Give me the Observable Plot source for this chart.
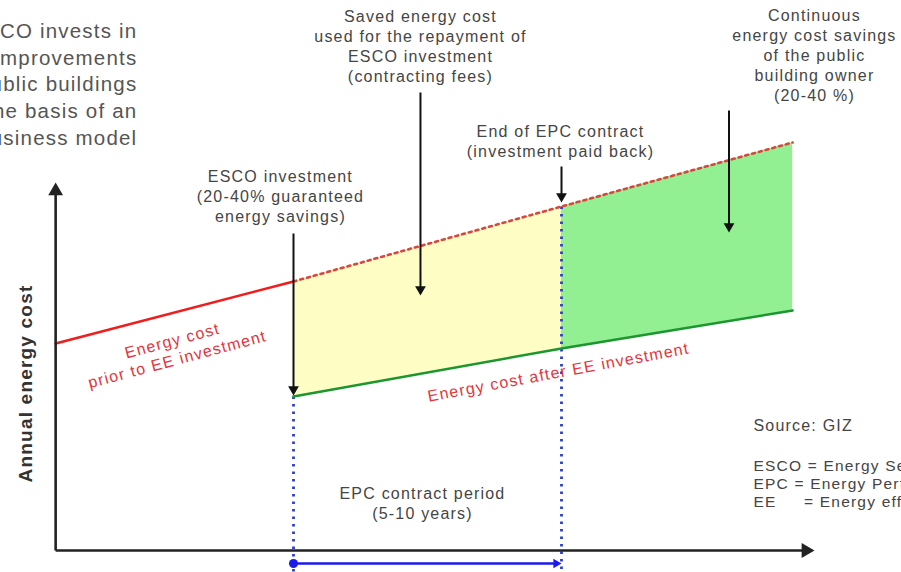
<!DOCTYPE html>
<html><head><meta charset="utf-8">
<script src="https://cdn.jsdelivr.net/npm/d3@7"></script>
<script src="https://cdn.jsdelivr.net/npm/@observablehq/plot@0.6"></script>
<style>
body{margin:0;background:#fff;}
#chart svg text{letter-spacing:1.2px;}
</style></head><body><div id="chart"></div>
<script>
// x = years relative to the ESCO investment, y = annual energy cost (arbitrary units)
const priorYears = [-7.1, 0];
const priorCost = [51.75, 67.25];
const baselineYears = [0, 8, 14.9];
const baselineCost = [67.25, 86, 102];
const afterYears = [0, 8, 14.9];
const afterCost = [38.5, 50.5, 60];
const contractStart = 0, contractEnd = 8;

// axes
const axisYear = -7.1, yAxisTip = 92, xAxisTip = 15.55, bottomCost = -5.5;

// black pointer arrows (year, from cost, to cost)
const pointerYears = [0, 3.79, 8, 13.0];
const pointerFrom = [79.25, 114.5, 96, 110];
const pointerTo = [38.75, 63.75, 87, 79.5];

// contract period arrow
const periodArrowCost = -3.25;

// annotations
const noteTexts = [
  "Saved energy cost\nused for the repayment of\nESCO investment\n(contracting fees)",
  "Continuous\nenergy cost savings\nof the public\nbuilding owner\n(20-40 %)",
  "End of EPC contract\n(investment paid back)",
  "ESCO investment\n(20-40% guaranteed\nenergy savings)",
  "EPC contract period\n(5-10 years)"
];
const noteYears = [3.79, 15.55, 7.97, -0.39, 3.85];
const noteCosts = [126.25, 124, 102.5, 88.75, 12];

const introText = "ESCO invests in\nEE improvements\nin public buildings\non the basis of an\nEPC business model";
const introYear = -4.66, introCost = 116.9;

const redLabels = ["Energy cost\nprior to EE investment", "Energy cost after EE investment"];
const redYears = [-3.55, 7.91];
const redCosts = [50.3, 44.5];
const redAngles = [-15, -10.5];

const sourceText = "Source: GIZ";
const abbrevText = "ESCO = Energy Service Company\nEPC = Energy Performance Contracting\nEE\u00a0\u00a0\u00a0\u00a0\u00a0= Energy efficiency";
const sourceYear = 13.73, sourceCost = 31.25, abbrevCost = 16.75;

const yLabel = "Annual energy cost";
const yLabelYear = -8.0, yLabelCost = 41.75;

// ---- build tables
const prior = priorYears.map((t, i) => ({t, c: priorCost[i]}));
const baseline = baselineYears.map((t, i) => ({t, c: baselineCost[i]}));
const after = afterYears.map((t, i) => ({t, c: afterCost[i]}));
const band = baselineYears.map((t, i) => ({t, top: baselineCost[i], bottom: afterCost[i]}));
const yellowBand = band.filter(d => d.t >= contractStart && d.t <= contractEnd);
const greenBand = band.filter(d => d.t >= contractEnd);
const costAt = (arr, t) => arr.find(d => d.t === t).c;

const axes = [
  {x1: axisYear, y1: 0, x2: axisYear, y2: yAxisTip - 2},
  {x1: axisYear, y1: 0, x2: xAxisTip - 0.3, y2: 0}
];
const dotted = [
  {x1: contractStart, y1: costAt(after, contractStart), x2: contractStart, y2: bottomCost},
  {x1: contractEnd, y1: costAt(baseline, contractEnd), x2: contractEnd, y2: bottomCost}
];
const pointers = pointerYears.map((t, i) => ({t, from: pointerFrom[i], to: pointerTo[i]}));
const notes = noteTexts.map((s, i) => ({s, t: noteYears[i], c: noteCosts[i]}));
const reds = redLabels.map((s, i) => ({s, t: redYears[i], c: redCosts[i], a: redAngles[i]}));

const font = "Liberation Sans, Arial, Helvetica, sans-serif";
const grey = "#454545";

const chart = Plot.plot({
  width: 901, height: 572,
  margin: 0,
  x: {domain: [-8.746, 18.149], axis: null},
  y: {domain: [-5.5, 137.5], axis: null},
  style: {fontFamily: font, background: "#fff"},
  marks: [
    Plot.areaY(yellowBand, {x: "t", y1: "bottom", y2: "top", fill: "#fefec4"}),
    Plot.areaY(greenBand, {x: "t", y1: "bottom", y2: "top", fill: "#92f092"}),
    Plot.link(dotted, {x1: "x1", y1: "y1", x2: "x2", y2: "y2", stroke: "#2a3fd0", strokeWidth: 2.8, strokeDasharray: "2.5 5"}),
    Plot.line(baseline, {x: "t", y: "c", stroke: "#d8473f", strokeWidth: 2.6, strokeDasharray: "3 4"}),
    Plot.line(prior, {x: "t", y: "c", stroke: "#f21c1c", strokeWidth: 2.5}),
    Plot.line(after, {x: "t", y: "c", stroke: "#1c9630", strokeWidth: 2.5}),
    Plot.link(axes, {x1: "x1", y1: "y1", x2: "x2", y2: "y2", stroke: "#222", strokeWidth: 2.6}),
    Plot.dot([{t: axisYear, c: yAxisTip}], {x: "t", y: "c", symbol: "triangle", r: 5.5, fill: "#222", stroke: "none", dy: 8.5}),
    Plot.dot([{t: xAxisTip, c: 0}], {x: "t", y: "c", symbol: "triangle", r: 5.5, rotate: 90, fill: "#222", stroke: "none", dx: -8.5}),
    Plot.link(pointers, {x1: "t", y1: "from", x2: "t", y2: d => d.to + 1.5, stroke: "#111", strokeWidth: 2}),
    Plot.dot(pointers, {x: "t", y: "to", symbol: "triangle", r: 4, rotate: 180, fill: "#111", stroke: "none", dy: -6.2}),
    Plot.link([{x1: contractStart, x2: contractEnd - 0.2, c: periodArrowCost}], {x1: "x1", x2: "x2", y1: "c", y2: "c", stroke: "#1a1aee", strokeWidth: 2.5}),
    Plot.dot([{t: contractStart, c: periodArrowCost}], {x: "t", y: "c", r: 4.5, fill: "#1a1aee", stroke: "none"}),
    Plot.dot([{t: contractEnd, c: periodArrowCost}], {x: "t", y: "c", symbol: "triangle", r: 3.5, rotate: 90, fill: "#1a1aee", stroke: "none", dx: -5.4}),
    Plot.text(notes, {x: "t", y: "c", text: "s", fontSize: 16, fill: grey, lineHeight: 1.25, lineAnchor: "middle", textAnchor: "middle"}),
    Plot.text([introText], {x: () => introYear, y: () => introCost, text: d => d, fontSize: 20.5, fill: "#555", lineHeight: 1.3, lineAnchor: "middle", textAnchor: "end"}),
    Plot.text(reds.slice(0, 1), {x: "t", y: "c", text: "s", rotate: redAngles[0], fontSize: 16, fill: "#e5343b", lineHeight: 1.2, lineAnchor: "middle", textAnchor: "middle"}),
    Plot.text(reds.slice(1), {x: "t", y: "c", text: "s", rotate: redAngles[1], fontSize: 16, fill: "#e5343b", lineAnchor: "middle", textAnchor: "middle"}),
    Plot.text([sourceText], {x: () => sourceYear, y: () => sourceCost, text: d => d, fontSize: 16, fill: grey, textAnchor: "start", lineAnchor: "middle"}),
    Plot.text([abbrevText], {x: () => sourceYear, y: () => abbrevCost, text: d => d, fontSize: 15.5, fill: grey, textAnchor: "start", lineAnchor: "middle", lineHeight: 1.16}),
    Plot.text([yLabel], {x: () => yLabelYear, y: () => yLabelCost, text: d => d, rotate: -90, fontSize: 19, fontWeight: "bold", fill: "#333", textAnchor: "middle", lineAnchor: "middle"})
  ]
});
document.getElementById("chart").appendChild(chart);
</script></body></html>
